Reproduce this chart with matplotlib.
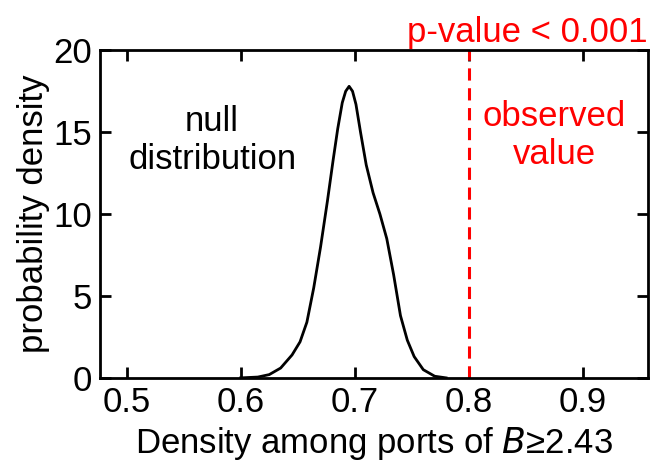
import numpy as np
import matplotlib.pyplot as plt

# null distribution
xs = [0.60, 0.615, 0.625, 0.635, 0.645, 0.652, 0.658, 0.664, 0.670, 0.676, 0.681, 0.685,
      0.689, 0.692, 0.695, 0.698, 0.701, 0.705, 0.710, 0.716, 0.722, 0.728, 0.734, 0.740,
      0.746, 0.752, 0.760, 0.770, 0.780]
ys = [0.0, 0.05, 0.2, 0.6, 1.4, 2.2, 3.4, 5.5, 8.0, 10.8, 13.3, 15.2,
      16.8, 17.5, 17.8, 17.5, 16.7, 15.0, 13.0, 11.3, 10.0, 8.5, 6.3, 3.8,
      2.3, 1.3, 0.5, 0.1, 0.0]
observed = 0.80

plt.rcParams['font.family'] = 'Liberation Sans'
fig, ax = plt.subplots(figsize=(6.6, 4.7), dpi=100)
ax.plot(xs, ys, color='black', lw=2)
ax.axvline(observed, color='red', ls='--', lw=2.2, dashes=(4, 2.5))

ax.set_xlim(0.477, 0.957)
ax.set_ylim(0, 20)
ax.set_xticks([0.5, 0.6, 0.7, 0.8, 0.9])
ax.set_yticks([0, 5, 10, 15, 20])
ax.tick_params(direction='in', length=8, width=2, labelsize=25, top=True, right=True, pad=6)
for s in ax.spines.values():
    s.set_linewidth(2)

ax.set_xlabel('Density among ports of $B$≥2.43', fontsize=25, labelpad=4)
ax.set_ylabel('probability density', fontsize=25, labelpad=2)
ax.text(0.575, 14.5, 'null\ndistribution', fontsize=25, ha='center', va='center')
ax.text(0.875, 14.8, 'observed\nvalue', fontsize=25, ha='center', va='center', color='red')
ax.set_title('p-value < 0.001', loc='right', color='red', fontsize=25, pad=6)

fig.subplots_adjust(left=0.152, right=0.982, top=0.893, bottom=0.196)
fig.savefig('out.png')
